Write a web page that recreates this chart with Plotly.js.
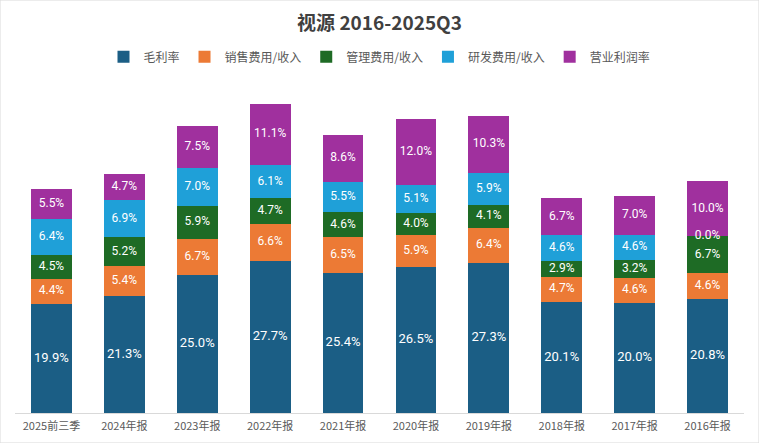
<!DOCTYPE html>
<html><head><meta charset="utf-8">
<script src="https://cdn.plot.ly/plotly-3.0.1.min.js"></script>
<style>html,body{margin:0;padding:0;background:#fff}#chart{width:759px;height:443px}</style>
</head><body><div id="chart"></div>
<script>
const categories = ['2025前三季','2024年报','2023年报','2022年报','2021年报','2020年报','2019年报','2018年报','2017年报','2016年报'];
const seriesNames = ['毛利率','销售费用/收入','管理费用/收入','研发费用/收入','营业利润率'];
const grossMargin = [19.9, 21.3, 25.0, 27.7, 25.4, 26.5, 27.3, 20.1, 20.0, 20.8];
const salesRatio  = [4.4, 5.4, 6.7, 6.6, 6.5, 5.9, 6.4, 4.7, 4.6, 4.6];
const adminRatio  = [4.5, 5.2, 5.9, 4.7, 4.6, 4.0, 4.1, 2.9, 3.2, 6.7];
const rdRatio     = [6.4, 6.9, 7.0, 6.1, 5.5, 5.1, 5.9, 4.6, 4.6, 0.0];
const opMargin    = [5.5, 4.7, 7.5, 11.1, 8.6, 12.0, 10.3, 6.7, 7.0, 10.0];
const colors = ['#1B5E85', '#EC7A35', '#1E6B25', '#1FA0D8', '#A0309E'];

const series = [grossMargin, salesRatio, adminRatio, rdRatio, opMargin];
const traces = [];
series.forEach((vals, i) => {
  traces.push({
    type: 'bar', name: seriesNames[i], x: categories, y: vals,
    marker: {color: colors[i], line: {width: 0}},
    hoverinfo: 'skip'
  });
});
// labels at segment centres
const base = categories.map(() => 0);
series.forEach((vals, i) => {
  const ys = vals.map((v, k) => base[k] + v / 2);
  vals.forEach((v, k) => { base[k] += v; });
  traces.push({
    type: 'scatter', mode: 'text', x: categories, y: ys,
    text: vals.map(v => v.toFixed(1) + '%'),
    textposition: 'middle center',
    textfont: {family: 'Roboto, Liberation Sans, sans-serif', size: i === 0 ? 13 : 12, color: '#ffffff'},
    showlegend: false, hoverinfo: 'skip', cliponaxis: false
  });
});

const layout = {
  width: 759, height: 443,
  margin: {l: 15, r: 15, t: 95, b: 30},
  paper_bgcolor: '#ffffff', plot_bgcolor: '#ffffff',
  barmode: 'stack', bargap: 0.44,
  title: {text: '<b>视源 2016-2025Q3</b>', x: 0.5, xanchor: 'center', y: 0.948, yanchor: 'middle',
          font: {family: 'Noto Sans CJK SC, sans-serif', size: 19, color: '#404040'}},
  legend: {orientation: 'h', x: 0.5, xanchor: 'center', y: 1.12, yanchor: 'middle',
           font: {family: 'Noto Sans CJK SC, sans-serif', size: 12, color: '#595959'},
           itemwidth: 30, tracegroupgap: 0, traceorder: 'normal'},
  xaxis: {type: 'category', range: [-0.5, 9.5], showgrid: false, zeroline: false,
          showline: true, linecolor: '#d9d9d9', linewidth: 1, ticks: '', ticklabelstandoff: 3,
          tickfont: {family: 'Noto Sans CJK SC, sans-serif', size: 11, color: '#595959'}, fixedrange: true},
  yaxis: {range: [0, 57.8], visible: false, showgrid: false, zeroline: false, fixedrange: true},
  shapes: [{type: 'rect', xref: 'paper', yref: 'paper', x0: -15/729, x1: 1 + 15/729, y0: -30/318, y1: 1 + 95/318,
            line: {color: '#d9d9d9', width: 1}}],
  showlegend: true
};
Plotly.newPlot('chart', traces, layout, {displayModeBar: false, staticPlot: true});
</script>
</body></html>
